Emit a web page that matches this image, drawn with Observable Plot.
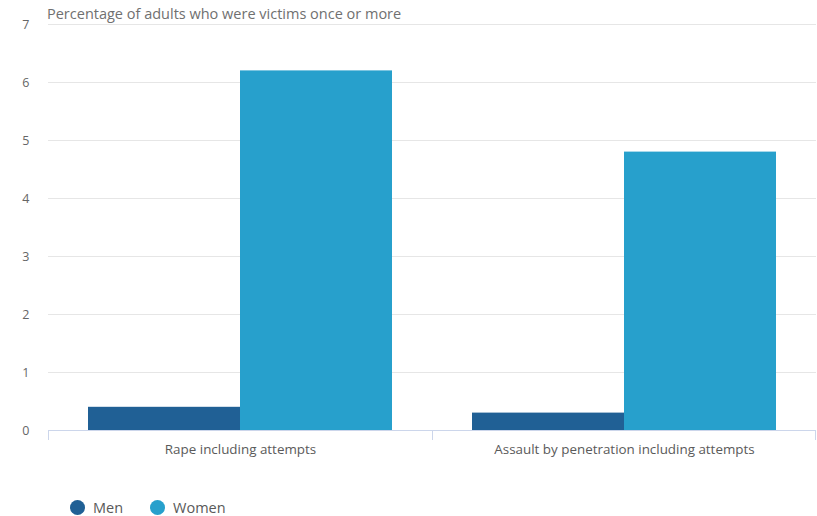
<!DOCTYPE html>
<html>
<head>
<meta charset="utf-8">
<script src="https://cdn.jsdelivr.net/npm/d3@7"></script>
<script src="https://cdn.jsdelivr.net/npm/@observablehq/plot@0.6"></script>
<style>
  html, body { margin: 0; padding: 0; background: #fff; }
  body { font-family: "Open Sans", sans-serif; width: 817px; height: 516px; position: relative; overflow: hidden; }
  #title { position: absolute; left: 47px; top: 4px; font-size: 14.5px; color: #707070; }
  #legend { position: absolute; left: 70px; top: 498px; font-size: 14.5px; color: #595959; display: flex; align-items: center; }
  .item { display: flex; align-items: center; margin-right: 27px; }
  .dot { width: 15px; height: 15px; border-radius: 50%; margin-right: 8px; }
</style>
</head>
<body>
<div id="chart"></div>
<div id="title">Percentage of adults who were victims once or more</div>
<div id="legend"></div>
<script>
const categories = ["Rape including attempts", "Assault by penetration including attempts"];
const seriesNames = ["Men", "Women"];
const men = [0.4, 0.3];
const women = [6.2, 4.8];
const colors = ["#206095", "#27a0cc"];
const yTicks = [0, 1, 2, 3, 4, 5, 6, 7];

const data = [];
categories.forEach((c, i) => {
  data.push({category: c, series: "Men", value: men[i]});
  data.push({category: c, series: "Women", value: women[i]});
});

const plot = Plot.plot({
  width: 817,
  height: 470,
  marginLeft: 47,
  marginRight: 1,
  marginTop: 24,
  marginBottom: 40,
  style: {fontFamily: "Open Sans, sans-serif", fontSize: "12px", color: "#666"},
  fx: {domain: categories, padding: 0, label: null},
  x: {domain: seriesNames, paddingInner: 0, paddingOuter: 0.2565, axis: null},
  y: {domain: [0, 7], label: null},
  color: {domain: seriesNames, range: colors},
  marks: [
    Plot.gridY(yTicks.filter(t => t > 0), {stroke: "#e6e6e6", strokeOpacity: 1}),
    Plot.axisY(yTicks, {tickSize: 0, tickPadding: 19, label: null, fill: "#666", fontSize: 12.5, tickFormat: d3.format("d")}),
    Plot.axisFx({anchor: "bottom", tickSize: 0, tickPadding: 14, label: null, fontSize: 13.4, fill: "#5a5a5a"}),
    Plot.barY(data, {fx: "category", x: "series", y: "value", fill: "series"}),
    Plot.ruleY([0], {stroke: "#ccd6eb", strokeWidth: 1})
  ]
});
document.getElementById("chart").appendChild(plot);

// Category separator tick marks at facet boundaries, using the fx scale
const fx = plot.scale("fx");
const bw = fx.bandwidth;
const svg = d3.select(plot);
const y0 = plot.scale("y").apply(0);
const edges = categories.map(c => fx.apply(c));
edges.push(fx.apply(categories[categories.length - 1]) + bw - 1);
svg.append("g").selectAll("line").data(edges).join("line")
  .attr("x1", d => d + 0.5).attr("x2", d => d + 0.5)
  .attr("y1", y0).attr("y2", y0 + 10)
  .attr("stroke", "#ccd6eb");

const legend = d3.select("#legend");
seriesNames.forEach((s, i) => {
  const item = legend.append("div").attr("class", "item");
  item.append("div").attr("class", "dot").style("background", colors[i]);
  item.append("span").text(s);
});
</script>
</body>
</html>
